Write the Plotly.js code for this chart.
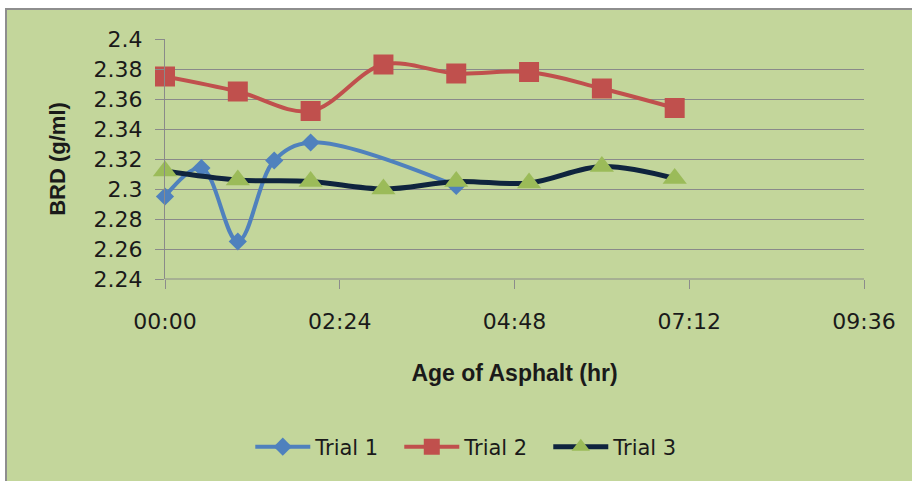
<!DOCTYPE html>
<html>
<head>
<meta charset="utf-8">
<script src="https://cdn.plot.ly/plotly-3.0.1.min.js"></script>
<style>
  html, body { margin: 0; padding: 0; background: #ffffff; width: 912px; height: 481px; overflow: hidden; }
  #frame { position: absolute; left: 5px; top: 8px; width: 907px; height: 473px; box-sizing: border-box;
           border-top: 2px solid #8e8e8e; border-left: 2px solid #8e8e8e; background: #C3D69B; }
  #chart { position: absolute; left: 0px; top: 0px; width: 905px; height: 471px; }
</style>
</head>
<body>
<div id="frame"><div id="chart"></div></div>
<script>
// Time in hours since mixing
const trial1Hours = [0, 0.5, 1, 1.5, 2, 4];
const trial1BRD   = [2.295, 2.314, 2.265, 2.319, 2.331, 2.302];

const trial2Hours = [0, 1, 2, 3, 4, 5, 6, 7];
const trial2BRD   = [2.375, 2.365, 2.352, 2.383, 2.377, 2.378, 2.367, 2.354];

const trial3Hours = [0, 1, 2, 3, 4, 5, 6, 7];
const trial3BRD   = [2.312, 2.306, 2.305, 2.300, 2.305, 2.304, 2.315, 2.307];

const xTickValues = [0, 2.4, 4.8, 7.2, 9.6];
const xTickLabels = ['00:00', '02:24', '04:48', '07:12', '09:36'];
const yTickValues = [2.24, 2.26, 2.28, 2.3, 2.32, 2.34, 2.36, 2.38, 2.4];
const yTickLabels = ['2.24', '2.26', '2.28', '2.3', '2.32', '2.34', '2.36', '2.38', '2.4'];

const tickFont = { family: 'DejaVu Sans', size: 22, color: '#1a1a1a' };

const traces = [
  {
    name: 'Trial 1', x: trial1Hours, y: trial1BRD, type: 'scatter', mode: 'lines+markers', cliponaxis: false,
    line: { color: '#4F81BD', width: 4, shape: 'spline', smoothing: 1 },
    marker: { symbol: 'diamond', size: 14, color: '#4F81BD' }
  },
  {
    name: 'Trial 2', x: trial2Hours, y: trial2BRD, type: 'scatter', mode: 'lines+markers', cliponaxis: false,
    line: { color: '#C0504D', width: 4, shape: 'spline', smoothing: 1 },
    marker: { symbol: 'square', size: 20, color: '#C0504D' }
  },
  {
    name: 'Trial 3', x: trial3Hours, y: trial3BRD, type: 'scatter', mode: 'lines+markers', cliponaxis: false,
    line: { color: '#0F243E', width: 5, shape: 'spline', smoothing: 1 },
    marker: { symbol: 'triangle-up', size: 21, color: '#9BBB59' }
  }
];

const layout = {
  width: 905, height: 471,
  margin: { l: 158, r: 48, t: 29, b: 202 },
  paper_bgcolor: '#C3D69B',
  plot_bgcolor: '#C3D69B',
  showlegend: true,
  legend: {
    orientation: 'h', x: 0.122, xanchor: 'left', y: -0.70, yanchor: 'middle',
    font: { family: 'DejaVu Sans', size: 21, color: '#1a1a1a' },
    bgcolor: 'rgba(0,0,0,0)', itemwidth: 55, entrywidth: 79, tracegroupgap: 0
  },
  xaxis: {
    range: [0, 9.6], tickmode: 'array', tickvals: xTickValues, ticktext: xTickLabels,
    showgrid: false, zeroline: false, showline: false,
    ticks: 'outside', ticklen: 9, tickwidth: 1, tickcolor: '#8c8c8c',
    tickfont: tickFont, ticklabelstandoff: 14,
    title: { text: 'Age of Asphalt (hr)', font: { family: 'Liberation Sans', size: 23, color: '#1a1a1a', weight: 'bold' }, standoff: 31 },
    fixedrange: true
  },
  yaxis: {
    range: [2.24, 2.4], tickmode: 'array', tickvals: yTickValues, ticktext: yTickLabels,
    showgrid: true, gridcolor: '#8a8a8a', gridwidth: 1, zeroline: false,
    showline: true, linecolor: '#8a8a8a', linewidth: 1,
    ticks: 'outside', ticklen: 9, tickwidth: 1, tickcolor: '#8a8a8a',
    tickfont: tickFont, ticklabelstandoff: 8,
    title: { text: 'BRD (g/ml)', font: { family: 'Liberation Sans', size: 22, color: '#1a1a1a', weight: 'bold' }, standoff: 21 },
    fixedrange: true
  },
  shapes: [
    { type: 'line', xref: 'paper', yref: 'paper', x0: 0, x1: 1, y0: 0, y1: 0,
      line: { color: '#8a8a8a', width: 1 }, layer: 'below' }
  ]
};

Plotly.newPlot('chart', traces, layout, { displayModeBar: false, staticPlot: true });
</script>
</body>
</html>
